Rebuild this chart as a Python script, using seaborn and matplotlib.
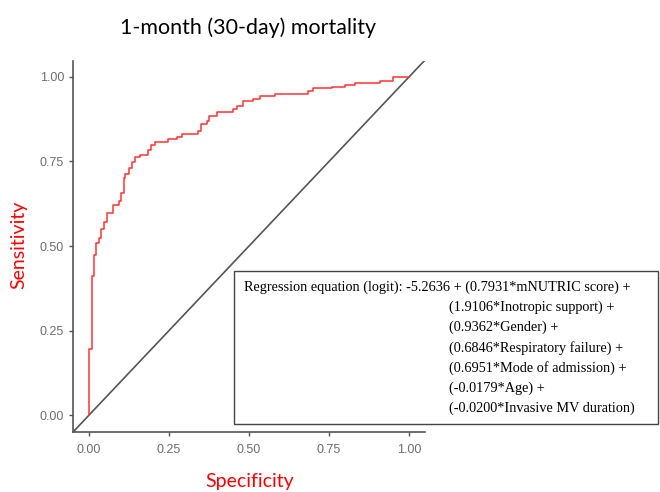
import matplotlib
matplotlib.use("Agg")
import numpy as np
import pandas as pd
import seaborn as sns
import matplotlib.pyplot as plt
from matplotlib.patches import Rectangle

# ROC step points: x where the curve steps up, y after the step
spec = [0.0, 0.0, 0.0104, 0.0156, 0.021, 0.031, 0.036, 0.047, 0.055, 0.076,
        0.093, 0.099, 0.109, 0.114, 0.125, 0.135, 0.144, 0.159, 0.185, 0.193,
        0.206, 0.248, 0.276, 0.29, 0.342, 0.35, 0.368, 0.376, 0.399, 0.451,
        0.464, 0.48, 0.514, 0.534, 0.581, 0.685, 0.701, 0.758, 0.8, 0.831,
        0.909, 0.949, 1.0]
sens = [0.0, 0.197, 0.411, 0.473, 0.51, 0.524, 0.55, 0.571, 0.598, 0.622,
        0.633, 0.658, 0.70, 0.714, 0.731, 0.747, 0.764, 0.768, 0.785, 0.80,
        0.808, 0.815, 0.823, 0.83, 0.84, 0.862, 0.870, 0.885, 0.897, 0.906,
        0.913, 0.928, 0.934, 0.944, 0.951, 0.958, 0.966, 0.970, 0.977, 0.982,
        0.988, 1.0, 1.0]

ticks = [0.0, 0.25, 0.5, 0.75, 1.0]
tick_labels = ["0.00", "0.25", "0.50", "0.75", "1.00"]

equation = ["Regression equation (logit): -5.2636 + (0.7931*mNUTRIC score) +",
            "(1.9106*Inotropic support) +",
            "(0.9362*Gender) +",
            "(0.6846*Respiratory failure) +",
            "(0.6951*Mode of admission) +",
            "(-0.0179*Age) +",
            "(-0.0200*Invasive MV duration)"]

df = pd.DataFrame({"Specificity": spec, "Sensitivity": sens})

sns.set_style("white")
plt.rcParams["font.family"] = ["Liberation Sans", "DejaVu Sans"]

fig = plt.figure(figsize=(6.6, 4.92), dpi=100)
ax = fig.add_axes([73 / 660, 1 - 431.7 / 492, 352 / 660, 371 / 492])

ax.axline((0, 0), (1, 1), color="#555555", lw=1.2, zorder=1)
sns.lineplot(data=df, x="Specificity", y="Sensitivity", ax=ax, sort=False,
             estimator=None, color="#ff3333", lw=1.1, drawstyle="steps-post",
             zorder=2)

ax.set_xlim(-0.05, 1.05)
ax.set_ylim(-0.049, 1.048)
ax.set_xticks(ticks)
ax.set_xticklabels(tick_labels)
ax.set_yticks(ticks)
ax.set_yticklabels(tick_labels)
ax.tick_params(axis="both", colors="#555555", labelcolor="#6e6e6e",
               labelsize=9, length=3, width=1, direction="out",
               bottom=True, left=True)
ax.tick_params(axis="x", pad=6)
for side in ["top", "right"]:
    ax.spines[side].set_visible(False)
for side in ["left", "bottom"]:
    ax.spines[side].set_color("#555555")
    ax.spines[side].set_linewidth(1.2)

ax.set_xlabel("")
ax.set_ylabel("")
fig.text(250 / 660, 1 - 482 / 492, "Specificity", color="#ff0000",
         fontsize=14, family="Lato", ha="center", va="center")
fig.text(19 / 660, 1 - 245 / 492, "Sensitivity", color="#ff0000",
         fontsize=14, family="Lato", ha="center", va="center", rotation=90)
fig.text(248 / 660, 1 - 28 / 492, "1-month (30-day) mortality", color="black",
         fontsize=15.4, family="Lato", ha="center", va="center")

fig.patches.append(Rectangle((234 / 660, 1 - 424 / 492), 424 / 660, 153 / 492,
                             transform=fig.transFigure, fill=True,
                             facecolor="white", edgecolor="#444444", lw=1,
                             zorder=5))
for i, line in enumerate(equation):
    x = 244 if i == 0 else 449
    fig.text(x / 660, 1 - (287 + 20.2 * i) / 492, line, family="Liberation Serif",
             fontsize=10.3, color="black", ha="left", va="center", zorder=6)

fig.savefig("out.png", dpi=100)
